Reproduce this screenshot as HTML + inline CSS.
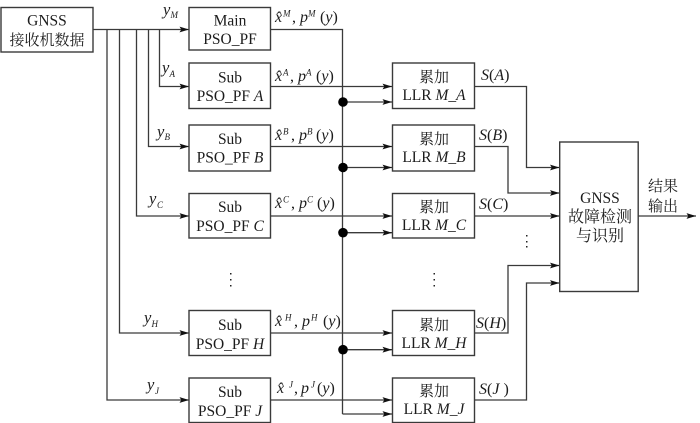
<!DOCTYPE html>
<html><head><meta charset="utf-8">
<style>
html,body{margin:0;padding:0;background:#fff;width:700px;height:423px;overflow:hidden}
svg{display:block;filter:blur(0.35px)}
text{font-family:"Liberation Serif","Noto Serif CJK SC",serif;font-size:15.5px;fill:#1c1c1c}
.m{text-anchor:middle}
.i{font-style:italic}
.c{font-size:15px}
.d{font-size:16px}
.s{font-size:9px;font-style:italic}
.b{fill:#fff;stroke:#3a3a3a;stroke-width:1.4}
.l{fill:none;stroke:#3a3a3a;stroke-width:1.3}
.y{font-size:16.5px;font-style:italic}
.h{font-size:16px}
</style></head><body>
<svg width="700" height="423" viewBox="0 0 700 423" xmlns="http://www.w3.org/2000/svg">
<defs><marker id="a" markerWidth="10" markerHeight="7" refX="9.500" refY="3.500" orient="auto" markerUnits="userSpaceOnUse"><path d="M0,0.6 L9.500,3.500 L0,6.400 L1.800,3.500 Z" fill="#111"/></marker></defs>

<!-- left bus -->
<path class="l" d="M93,29.5H189" marker-end="url(#a)"/>
<path class="l" d="M159.500,29.500V86.500H189" marker-end="url(#a)"/>
<path class="l" d="M148.500,29.500V146.500H189" marker-end="url(#a)"/>
<path class="l" d="M136.500,29.500V216H189" marker-end="url(#a)"/>
<path class="l" d="M119.500,29.500V333H189" marker-end="url(#a)"/>
<path class="l" d="M107,29.500V400H189" marker-end="url(#a)"/>

<!-- middle -->
<path class="l" d="M270.500,29.500H342.500V414"/>
<path class="l" d="M270.500,86.500H392" marker-end="url(#a)"/>
<path class="l" d="M342.500,102H392" marker-end="url(#a)"/>
<path class="l" d="M270.500,146.500H392" marker-end="url(#a)"/>
<path class="l" d="M342.500,167.500H392" marker-end="url(#a)"/>
<path class="l" d="M270.500,216H392" marker-end="url(#a)"/>
<path class="l" d="M342.500,232.700H392" marker-end="url(#a)"/>
<path class="l" d="M270.500,333H392" marker-end="url(#a)"/>
<path class="l" d="M342.500,349.700H392" marker-end="url(#a)"/>
<path class="l" d="M270.500,400H392" marker-end="url(#a)"/>
<path class="l" d="M342.500,414H392" marker-end="url(#a)"/>
<g fill="#000">
<circle cx="343" cy="102" r="4.800"/><circle cx="343" cy="167.500" r="4.800"/><circle cx="343" cy="232.700" r="4.800"/><circle cx="343" cy="349.700" r="4.800"/>
</g>

<!-- right -->
<path class="l" d="M474.500,86.500H526.500V167.500H559.500" marker-end="url(#a)"/>
<path class="l" d="M474.500,146.500H508V193H559.500" marker-end="url(#a)"/>
<path class="l" d="M474.500,216H559.500" marker-end="url(#a)"/>
<path class="l" d="M474.500,333H508V265.500H559.500" marker-end="url(#a)"/>
<path class="l" d="M474.500,400H526.500V283H559.500" marker-end="url(#a)"/>
<path class="l" d="M638,216H696" marker-end="url(#a)"/>

<!-- boxes -->
<rect class="b" x="1" y="7.500" width="92" height="44.500"/>
<rect class="b" x="189" y="7.500" width="81.500" height="42.500"/>
<rect class="b" x="189" y="63" width="81.500" height="45.500"/>
<rect class="b" x="189" y="125" width="81.500" height="46"/>
<rect class="b" x="189" y="193.500" width="81.500" height="44.500"/>
<rect class="b" x="189" y="310.500" width="81.500" height="45"/>
<rect class="b" x="189" y="378" width="81.500" height="44.500"/>
<rect class="b" x="392.500" y="63" width="82" height="45.500"/>
<rect class="b" x="392.500" y="125" width="82" height="46"/>
<rect class="b" x="392.500" y="193.500" width="82" height="44.500"/>
<rect class="b" x="392.500" y="310.500" width="82" height="45"/>
<rect class="b" x="392.500" y="378" width="82" height="44.500"/>
<rect class="b" x="559.700" y="142" width="78.500" height="149.500"/>

<!-- box text -->
<text class="m" x="47" y="25.500">GNSS</text>
<text class="m c" x="47" y="45">接收机数据</text>
<text class="m" x="230" y="25.500">Main</text>
<text class="m" x="230" y="44">PSO_PF</text>
<text class="m" x="230" y="82.500">Sub</text>
<text class="m" x="230" y="101">PSO_PF <tspan class="i">A</tspan></text>
<text class="m" x="230" y="144">Sub</text>
<text class="m" x="230" y="162.500">PSO_PF <tspan class="i">B</tspan></text>
<text class="m" x="230" y="212">Sub</text>
<text class="m" x="230" y="231">PSO_PF <tspan class="i">C</tspan></text>
<text class="m" x="230" y="330">Sub</text>
<text class="m" x="230" y="349">PSO_PF <tspan class="i">H</tspan></text>
<text class="m" x="230" y="397">Sub</text>
<text class="m" x="230" y="416">PSO_PF <tspan class="i">J</tspan></text>

<text class="m c" x="434" y="82">累加</text>
<text class="m" x="434" y="100">LLR <tspan class="i">M_A</tspan></text>
<text class="m c" x="434" y="144">累加</text>
<text class="m" x="434" y="162">LLR <tspan class="i">M_B</tspan></text>
<text class="m c" x="434" y="212">累加</text>
<text class="m" x="434" y="230">LLR <tspan class="i">M_C</tspan></text>
<text class="m c" x="434" y="330">累加</text>
<text class="m" x="434" y="348">LLR <tspan class="i">M_H</tspan></text>
<text class="m c" x="434" y="396">累加</text>
<text class="m" x="434" y="414">LLR <tspan class="i">M_J</tspan></text>

<text class="m" x="600" y="203">GNSS</text>
<text class="m d" x="600" y="222">故障检测</text>
<text class="m d" x="600" y="241">与识别</text>
<text class="m c" x="663" y="191">结果</text>
<text class="m c" x="663" y="211">输出</text>

<!-- y labels -->
<text class="y" x="163" y="15">y</text><text class="s" x="170.500" y="18">M</text>
<text class="y" x="162" y="73">y</text><text class="s" x="169.500" y="77">A</text>
<text class="y" x="157" y="137">y</text><text class="s" x="164.500" y="140">B</text>
<text class="y" x="149" y="204">y</text><text class="s" x="157" y="208">C</text>
<text class="y" x="144" y="323">y</text><text class="s" x="151.500" y="327">H</text>
<text class="y" x="147" y="390">y</text><text class="s" x="155" y="394">J</text>

<!-- x hat labels -->
<g>
<text class="i h" x="275" y="22">x̂</text><text class="s" x="283" y="16.500">M</text><text class="h" x="292" y="22">,</text><text class="i h" x="300" y="22">p</text><text class="s" x="308" y="16.500">M</text><text class="h" x="320" y="22">(<tspan class="i">y</tspan>)</text>
<text class="i h" x="275" y="81">x̂</text><text class="s" x="283" y="75.500">A</text><text class="h" x="290" y="81">,</text><text class="i h" x="298" y="81">p</text><text class="s" x="306" y="75.500">A</text><text class="h" x="316" y="81">(<tspan class="i">y</tspan>)</text>
<text class="i h" x="275" y="140">x̂</text><text class="s" x="283" y="134.500">B</text><text class="h" x="291" y="140">,</text><text class="i h" x="299" y="140">p</text><text class="s" x="307" y="134.500">B</text><text class="h" x="316" y="140">(<tspan class="i">y</tspan>)</text>
<text class="i h" x="275" y="208">x̂</text><text class="s" x="283" y="202.500">C</text><text class="h" x="291" y="208">,</text><text class="i h" x="299" y="208">p</text><text class="s" x="307" y="202.500">C</text><text class="h" x="317" y="208">(<tspan class="i">y</tspan>)</text>
<text class="i h" x="275" y="326">x̂</text><text class="s" x="285" y="320.500">H</text><text class="h" x="294" y="326">,</text><text class="i h" x="302" y="326">p</text><text class="s" x="311" y="320.500">H</text><text class="h" x="323" y="326">(<tspan class="i">y</tspan>)</text>
<text class="i h" x="277" y="393">x̂</text><text class="s" x="289" y="387.500">J</text><text class="h" x="294" y="393">,</text><text class="i h" x="301" y="393">p</text><text class="s" x="311" y="387.500">J</text><text class="h" x="317" y="393">(<tspan class="i">y</tspan>)</text>
</g>

<!-- S labels -->
<text class="h" x="481" y="80"><tspan class="i">S</tspan>(<tspan class="i">A</tspan>)</text>
<text class="h" x="479" y="140"><tspan class="i">S</tspan>(<tspan class="i">B</tspan>)</text>
<text class="h" x="479" y="209"><tspan class="i">S</tspan>(<tspan class="i">C</tspan>)</text>
<text class="h" x="476" y="328"><tspan class="i">S</tspan>(<tspan class="i">H</tspan>)</text>
<text class="h" x="479" y="394"><tspan class="i">S</tspan>(<tspan class="i">J</tspan> )</text>

<!-- vertical ellipses -->
<g fill="#222">
<rect x="230" y="273" width="1.500" height="1.500"/><rect x="230" y="279" width="1.500" height="1.500"/><rect x="230" y="285" width="1.500" height="1.500"/>
<rect x="433.500" y="273" width="1.500" height="1.500"/><rect x="433.500" y="279" width="1.500" height="1.500"/><rect x="433.500" y="285" width="1.500" height="1.500"/>
<rect x="526" y="235" width="1.500" height="1.500"/><rect x="526" y="241" width="1.500" height="1.500"/><rect x="526" y="246" width="1.500" height="1.500"/>
</g>
</svg>
</body></html>
